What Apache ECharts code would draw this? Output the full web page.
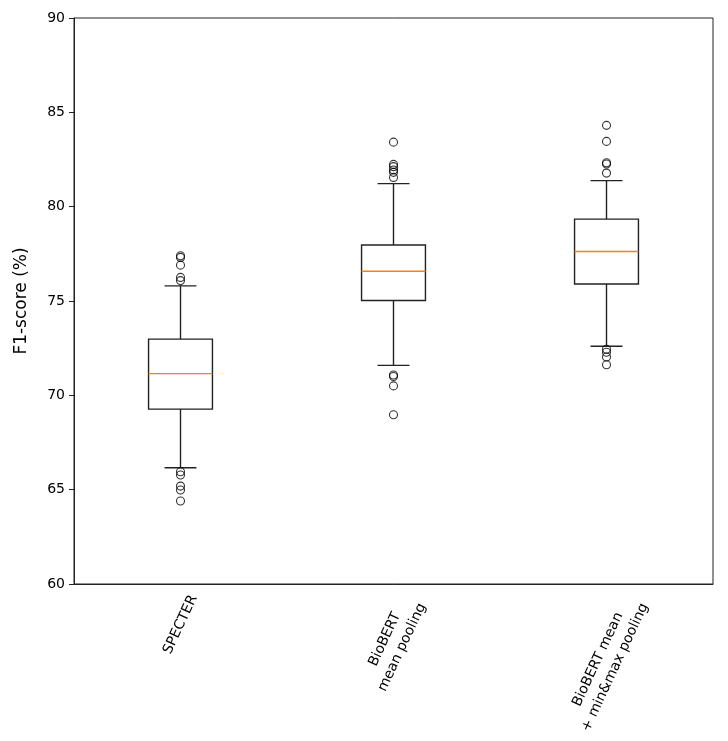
<!DOCTYPE html>
<html>
<head>
<meta charset="utf-8">
<script src="https://cdn.jsdelivr.net/npm/echarts@6/dist/echarts.min.js"></script>
<style>
html,body{margin:0;padding:0;background:#fff;}
#chart{width:728px;height:741px;}
</style>
</head>
<body>
<div id="chart"></div>
<script>
const categories = ['SPECTER', 'BioBERT\nmean pooling', 'BioBERT mean\n+ min&max pooling'];
const whiskerLow = [66.16, 71.59, 72.60];
const q1 = [69.27, 75.03, 75.90];
const medians = [71.15, 76.58, 77.62];
const q3 = [72.98, 77.97, 79.34];
const whiskerHigh = [75.80, 81.22, 81.38];
const outliersSPECTER = [77.40, 77.31, 76.90, 76.25, 76.08, 65.95, 65.78, 65.19, 64.98, 64.40];
const outliersMean = [83.42, 82.24, 82.12, 81.94, 81.82, 81.55, 71.08, 71.00, 70.50, 68.97];
const outliersMinMax = [84.31, 83.46, 82.33, 82.26, 81.78, 72.44, 72.28, 72.03, 71.62];
const yMin = 60, yMax = 90, yStep = 5;
const yName = 'F1-score (%)';

const FONT = '"DejaVu Sans", sans-serif';
const LABEL_SIZE = 14;
const LINE_H = 19;
const ROT = 65 * Math.PI / 180;

const measureCtx = document.createElement('canvas').getContext('2d');
measureCtx.font = LABEL_SIZE + 'px ' + FONT;

const boxData = categories.map((c, i) => [i, whiskerLow[i], q1[i], medians[i], q3[i], whiskerHigh[i]]);
const outlierSets = [outliersSPECTER, outliersMean, outliersMinMax];
const outlierData = [];
outlierSets.forEach((arr, i) => arr.forEach(v => outlierData.push([i, v])));
const labelData = categories.map((c, i) => [i, yMin]);

function renderBox(params, api) {
  const i = api.value(0);
  const lo = api.coord([i, api.value(1)]);
  const b1 = api.coord([i, api.value(2)]);
  const md = api.coord([i, api.value(3)]);
  const b3 = api.coord([i, api.value(4)]);
  const hi = api.coord([i, api.value(5)]);
  const band = api.size([1, 0])[0];
  const hw = band * 0.15, cw = band * 0.075;
  const x = lo[0];
  const ls = {stroke: '#222', lineWidth: 1.4};
  return {type: 'group', children: [
    {type: 'line', shape: {x1: x, y1: b3[1], x2: x, y2: hi[1]}, style: ls},
    {type: 'line', shape: {x1: x, y1: b1[1], x2: x, y2: lo[1]}, style: ls},
    {type: 'line', shape: {x1: x - cw, y1: hi[1], x2: x + cw, y2: hi[1]}, style: ls},
    {type: 'line', shape: {x1: x - cw, y1: lo[1], x2: x + cw, y2: lo[1]}, style: ls},
    {type: 'rect', shape: {x: x - hw, y: b3[1], width: 2 * hw, height: b1[1] - b3[1]}, style: {fill: 'none', stroke: '#222', lineWidth: 1.4}},
    {type: 'line', shape: {x1: x - hw, y1: md[1], x2: x + hw, y2: md[1]}, style: {stroke: '#ff7f0e', lineWidth: 1.4}}
  ]};
}

function renderLabel(params, api) {
  const i = api.value(0);
  const p = api.coord([i, api.value(1)]);
  const text = categories[i];
  const lines = text.split('\n');
  const L = Math.max.apply(null, lines.map(s => measureCtx.measureText(s).width));
  const H = lines.length * LINE_H;
  const bh = L * Math.sin(ROT) + H * Math.cos(ROT);
  return {
    type: 'text',
    x: p[0],
    y: p[1] + 8 + bh / 2,
    rotation: ROT,
    style: {
      text: text,
      align: 'center',
      verticalAlign: 'middle',
      fontSize: LABEL_SIZE,
      fontFamily: FONT,
      lineHeight: LINE_H,
      fill: '#000'
    }
  };
}

const chart = echarts.init(document.getElementById('chart'), null, {renderer: 'canvas'});
chart.setOption({
  animation: false,
  backgroundColor: '#fff',
  grid: {left: 74, right: 15, top: 18, bottom: 157, show: true, borderColor: '#222', borderWidth: 1, backgroundColor: 'transparent'},
  xAxis: {
    type: 'category',
    data: categories,
    boundaryGap: true,
    axisLine: {lineStyle: {color: '#222', width: 1}},
    axisTick: {alignWithLabel: true, length: 5, lineStyle: {color: '#222'}},
    axisLabel: {show: false},
    splitLine: {show: false}
  },
  yAxis: {
    type: 'value',
    min: yMin, max: yMax, interval: yStep,
    name: yName,
    nameLocation: 'middle',
    nameGap: 44,
    nameTextStyle: {fontSize: 17, fontFamily: FONT, color: '#000'},
    axisLine: {show: true, lineStyle: {color: '#222', width: 1}},
    axisTick: {show: true, length: 5, lineStyle: {color: '#222'}},
    axisLabel: {fontSize: 14, fontFamily: FONT, color: '#000', margin: 9},
    splitLine: {show: false}
  },
  series: [
    {type: 'custom', renderItem: renderBox, data: boxData, encode: {x: 0, y: [1, 2, 3, 4, 5]}, z: 2},
    {type: 'scatter', data: outlierData, symbol: 'circle', symbolSize: 8,
     itemStyle: {color: 'transparent', borderColor: '#000', borderWidth: 1.1}, z: 3},
    {type: 'custom', renderItem: renderLabel, data: labelData, clip: false, silent: true, z: 4}
  ]
});
</script>
</body>
</html>
